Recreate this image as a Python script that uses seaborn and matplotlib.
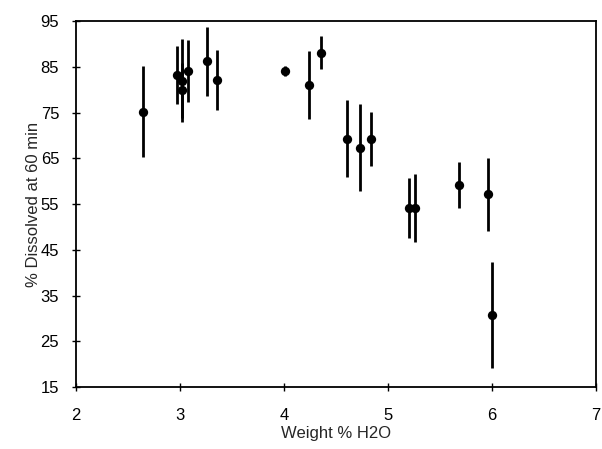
import matplotlib
matplotlib.use('Agg')
import matplotlib.pyplot as plt
import seaborn as sns
import pandas as pd

# values
water = [2.65, 2.97, 3.02, 3.02, 3.08, 3.26, 3.36, 4.01, 4.24, 4.36,
         4.61, 4.73, 4.84, 5.20, 5.26, 5.68, 5.96, 6.00]
dissolved = [75.2, 83.2, 82.0, 79.9, 84.1, 86.2, 82.1, 84.1, 81.0, 88.1,
             69.3, 67.3, 69.3, 54.1, 54.1, 59.2, 57.1, 30.8]
err = [10.0, 6.3, 9.0, 6.0, 6.7, 7.5, 6.5, 1.0, 7.5, 3.6,
       8.4, 9.5, 5.9, 6.6, 7.5, 5.1, 8.0, 11.6]

df = pd.DataFrame({'Weight % H2O': water, 'dissolved': dissolved, 'err': err})

sns.set_style('ticks')
plt.rcParams['font.family'] = ['Liberation Sans', 'DejaVu Sans']

fig = plt.figure(figsize=(6.02, 4.49), dpi=100)
ax = fig.add_axes([0.126, 0.138, 0.864, 0.815])

ax.errorbar(df['Weight % H2O'], df['dissolved'], yerr=df['err'], fmt='none',
            ecolor='black', elinewidth=2.0, capsize=0, zorder=2)
sns.scatterplot(data=df, x='Weight % H2O', y='dissolved', ax=ax, color='black',
                s=45, edgecolor='black', linewidth=0, zorder=3)

ax.set_xlim(2, 7)
ax.set_ylim(15, 95)
ax.set_xticks(range(2, 8))
ax.set_yticks(range(15, 96, 10))
ax.tick_params(direction='inout', length=6, width=1, labelsize=12, colors='black')
ax.tick_params(axis='x', pad=12)
ax.tick_params(axis='y', pad=9)
for s in ax.spines.values():
    s.set_visible(True)
    s.set_linewidth(1.3)
    s.set_color('black')
ax.set_xlabel('Weight % H2O', fontsize=12, labelpad=2)
ax.set_ylabel('% Dissolved at 60 min', fontsize=12, labelpad=0)

fig.savefig('out.png', dpi=100)
